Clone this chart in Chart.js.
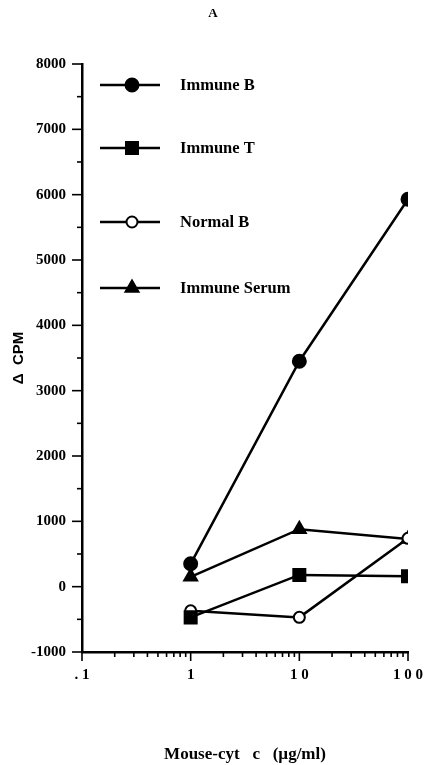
<!DOCTYPE html>
<html>
<head>
<meta charset="utf-8">
<script src="https://cdn.jsdelivr.net/npm/chart.js@4/dist/chart.umd.min.js"></script>
<style>
  html, body { margin: 0; padding: 0; background: #fff; }
  #wrap { width: 427px; height: 765px; position: relative; }
</style>
</head>
<body>
<div id="wrap"><canvas id="c" width="427" height="765"></canvas></div>
<script>
// ---- data ----
const doses = [1, 10, 100];                 // Mouse-cyt c (µg/ml)
const seriesNames = ['Immune B', 'Immune T', 'Normal B', 'Immune Serum'];
const immuneB = [350, 3450, 5930];
const immuneT = [-470, 180, 160];
const normalB = [-370, -470, 740];
const immuneSerum = [150, 880, 730];
const xTickLabels = { '0.1': '. 1', '1': '1', '10': '1 0', '100': '1 0 0' };
const yMin = -1000, yMax = 8000;
const panelTitle = 'A';

const SERIF = '"Liberation Serif", "Times New Roman", serif';

const styles = [
  { pointStyle: 'circle', radius: 6.5, fill: '#000' },
  { pointStyle: 'rect', radius: 8.5, fill: '#000' },
  { pointStyle: 'circle', radius: 5.5, fill: '#fff' },
  { pointStyle: 'triangle', radius: 7.5, fill: '#000' }
];
const values = [immuneB, immuneT, normalB, immuneSerum];

const datasets = values.map((v, i) => ({
  label: seriesNames[i],
  data: doses.map((d, j) => ({ x: d, y: v[j] })),
  borderColor: '#000',
  borderWidth: 2.5,
  pointStyle: styles[i].pointStyle,
  pointRadius: styles[i].radius,
  pointHoverRadius: styles[i].radius,
  pointBackgroundColor: styles[i].fill,
  pointBorderColor: '#000',
  pointBorderWidth: 2,
  tension: 0,
  fill: false
}));

function drawMarker(ctx, st, x, y) {
  const opts = { pointStyle: st.pointStyle, radius: st.radius, rotation: 0, borderWidth: 2 };
  ctx.save();
  ctx.fillStyle = st.fill;
  ctx.strokeStyle = '#000';
  ctx.lineWidth = 2;
  if (Chart.helpers && Chart.helpers.drawPoint) {
    Chart.helpers.drawPoint(ctx, opts, x, y);
  } else {
    ctx.beginPath();
    ctx.arc(x, y, st.radius, 0, Math.PI * 2);
    ctx.fill(); ctx.stroke();
  }
  ctx.restore();
}

// custom ticks (major long, minor short), panel title and in-plot legend
const decor = {
  id: 'decor',
  afterDraw(chart) {
    const ctx = chart.ctx;
    const xs = chart.scales.x, ys = chart.scales.y;
    const area = chart.chartArea;
    ctx.save();
    ctx.strokeStyle = '#000';
    ctx.lineWidth = 1.6;
    xs.ticks.forEach(t => {
      const px = xs.getPixelForValue(t.value);
      const len = t.major ? 9 : 5;
      ctx.beginPath();
      ctx.moveTo(px, area.bottom);
      ctx.lineTo(px, area.bottom + len);
      ctx.stroke();
    });
    ys.ticks.forEach(t => {
      const py = ys.getPixelForValue(t.value);
      const len = (t.value % 1000 === 0) ? 10 : 5;
      ctx.beginPath();
      ctx.moveTo(area.left, py);
      ctx.lineTo(area.left - len, py);
      ctx.stroke();
    });
    // panel title
    ctx.fillStyle = '#000';
    ctx.font = 'bold 13px ' + SERIF;
    ctx.textAlign = 'center';
    ctx.textBaseline = 'middle';
    ctx.fillText(panelTitle, 213, 14);
    // legend
    const rowsY = [85, 148, 222, 288];
    ctx.font = 'bold 16.5px ' + SERIF;
    ctx.textBaseline = 'middle';
    ctx.textAlign = 'left';
    seriesNames.forEach((name, i) => {
      const y = rowsY[i];
      ctx.lineWidth = 2.5;
      ctx.beginPath();
      ctx.moveTo(100, y);
      ctx.lineTo(160, y);
      ctx.stroke();
      drawMarker(ctx, styles[i], 132, y);
      ctx.fillStyle = '#000';
      ctx.fillText(name, 180, y + 1);
    });
    ctx.restore();
  }
};

new Chart(document.getElementById('c'), {
  type: 'line',
  data: { datasets },
  plugins: [decor],
  options: {
    responsive: false,
    animation: false,
    events: [],
    layout: { padding: { left: 0, right: 18, top: 64, bottom: 0 } },
    plugins: {
      legend: { display: false },
      tooltip: { enabled: false },
      title: { display: false }
    },
    scales: {
      x: {
        type: 'logarithmic',
        min: 0.1,
        max: 100,
        afterBuildTicks(scale) {
          const t = [];
          [0.1, 1, 10].forEach(d => {
            for (let k = 1; k <= 9; k++) t.push({ value: k * d, major: k === 1 });
          });
          t.push({ value: 100, major: true });
          scale.ticks = t;
        },
        afterFit(scale) { scale.height = 113; },
        grid: { display: true, drawOnChartArea: false, drawTicks: true, tickLength: 10, tickColor: 'rgba(0,0,0,0)' },
        border: { display: true, color: '#000', width: 2.5 },
        ticks: {
          autoSkip: false,
          maxRotation: 0,
          padding: 4,
          color: '#000',
          font: { family: SERIF, size: 15, weight: 'bold' },
          callback(value) {
            const key = String(Math.round(value * 10) / 10);
            return xTickLabels[key] !== undefined ? xTickLabels[key] : '';
          }
        },
        title: {
          display: true,
          text: 'Mouse-cyt   c   (µg/ml)',
          color: '#000',
          font: { family: SERIF, size: 17, weight: 'bold' },
          padding: { top: 0, bottom: 0 }
        }
      },
      y: {
        type: 'linear',
        min: yMin,
        max: yMax,
        afterFit(scale) { scale.width = 82; },
        grid: { display: true, drawOnChartArea: false, drawTicks: true, tickLength: 10, tickColor: 'rgba(0,0,0,0)' },
        border: { display: true, color: '#000', width: 2.5 },
        ticks: {
          stepSize: 500,
          autoSkip: false,
          padding: 6,
          color: '#000',
          font: { family: SERIF, size: 15, weight: 'bold' },
          callback(value) { return value % 1000 === 0 ? String(value) : ''; }
        },
        title: {
          display: true,
          text: 'Δ  CPM',
          color: '#000',
          font: { family: '"Liberation Sans", Arial, sans-serif', size: 15, weight: 'bold' },
          padding: { top: 10, bottom: 0 }
        }
      }
    }
  }
});
</script>
</body>
</html>
